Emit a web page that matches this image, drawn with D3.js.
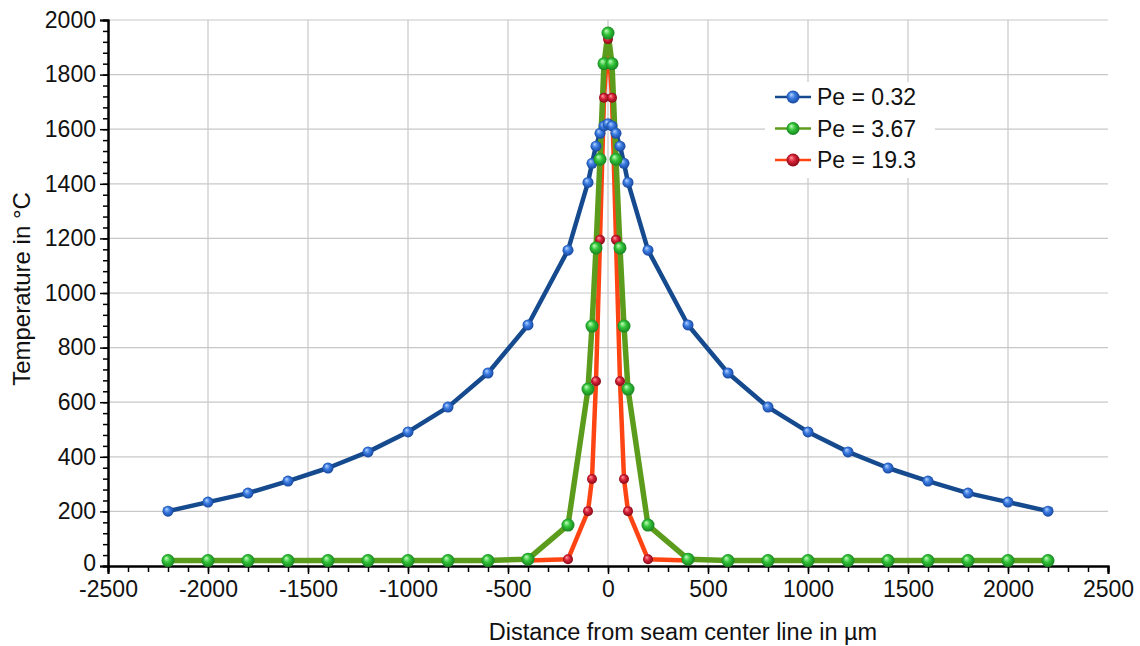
<!DOCTYPE html>
<html>
<head>
<meta charset="utf-8">
<script src="https://cdn.jsdelivr.net/npm/d3@7"></script>
<style>
  body { margin: 0; background: #fff; }
  svg { display: block; font-family: "Liberation Sans", Arial, sans-serif; }
</style>
</head>
<body>
<div id="chart"></div>
<script>
// values (x in µm, temperature in °C)
const blueX = [-2200, -2000, -1800, -1600, -1400, -1200, -1000, -800, -600, -400, -200, -100, -80, -60, -40, -20, 0,
  20, 40, 60, 80, 100, 200, 400, 600, 800, 1000, 1200, 1400, 1600, 1800, 2000, 2200];
const blueY = [201, 234, 267, 311, 359, 418, 491, 582, 707, 883, 1157, 1405, 1475, 1538, 1585, 1612, 1620,
  1612, 1585, 1538, 1475, 1405, 1157, 883, 707, 582, 491, 418, 359, 311, 267, 234, 201];

const greenX = [-2200, -2000, -1800, -1600, -1400, -1200, -1000, -800, -600, -400, -200, -100, -80, -60, -40, -20, 0,
  20, 40, 60, 80, 100, 200, 400, 600, 800, 1000, 1200, 1400, 1600, 1800, 2000, 2200];
const greenY = [20, 20, 20, 20, 20, 20, 20, 20, 20, 25, 150, 648, 879, 1165, 1490, 1840, 1952,
  1840, 1490, 1165, 879, 648, 150, 25, 20, 20, 20, 20, 20, 20, 20, 20, 20];

const redX = [-400, -200, -100, -80, -60, -40, -20, 0, 20, 40, 60, 80, 100, 200, 400];
const redY = [20, 25, 201, 319, 677, 1195, 1715, 1930, 1715, 1195, 677, 319, 201, 25, 20];

const seriesNames = ["Pe = 0.32", "Pe = 3.67", "Pe = 19.3"];

const xMajor = d3.range(-2500, 2501, 500);
const xMinor = d3.range(-2500, 2501, 100);
const yMajor = d3.range(0, 2001, 200);
const yMinor = d3.range(0, 2001, 40);

const width = 1140, height = 646;
const x = d3.scaleLinear().domain([-2500, 2500]).range([108, 1108]);
const y = d3.scaleLinear().domain([0, 2000]).range([566, 20]);

const svg = d3.select("#chart").append("svg")
  .attr("width", width)
  .attr("height", height);

// glossy sphere gradients for the markers
const styles = [
  {line: "#164a8e", lw: 4.5, r: 5.5, stops: ["#b8d4ff", "#3a7be0", "#123f96"]},
  {line: "#5c9c1c", lw: 5.5, r: 6.5, stops: ["#c8ffc0", "#33c43a", "#137a1c"]},
  {line: "#ff4414", lw: 4.5, r: 5, stops: ["#ff9d9d", "#d8223a", "#7c0612"]}
];
const defs = svg.append("defs");
styles.forEach((s, i) => {
  const g = defs.append("radialGradient")
    .attr("id", "ball" + i)
    .attr("cx", "50%").attr("cy", "50%").attr("r", "55%")
    .attr("fx", "35%").attr("fy", "30%");
  g.append("stop").attr("offset", "0%").attr("stop-color", s.stops[0]);
  g.append("stop").attr("offset", "45%").attr("stop-color", s.stops[1]);
  g.append("stop").attr("offset", "100%").attr("stop-color", s.stops[2]);
});

// grid
const grid = svg.append("g").attr("stroke", "#c8c8c8").attr("stroke-width", 1.2);
grid.selectAll("line.v").data(xMajor.filter(v => v > -2500 && v < 2500)).join("line")
  .attr("x1", d => x(d)).attr("x2", d => x(d))
  .attr("y1", y(0)).attr("y2", y(2000));
grid.selectAll("line.h").data(yMajor.filter(v => v > 0)).join("line")
  .attr("x1", x(-2500)).attr("x2", x(2500))
  .attr("y1", d => y(d)).attr("y2", d => y(d));

// axes
const fontSize = 23;
const xAxisMinor = svg.append("g")
  .attr("transform", `translate(0,${y(0)})`)
  .call(d3.axisBottom(x).tickValues(xMinor).tickSize(6).tickFormat(""));
const xAxis = svg.append("g")
  .attr("transform", `translate(0,${y(0)})`)
  .call(d3.axisBottom(x).tickValues(xMajor).tickSize(8).tickPadding(7).tickFormat(d3.format("d")));
const yAxisMinor = svg.append("g")
  .attr("transform", `translate(${x(-2500)},0)`)
  .call(d3.axisLeft(y).tickValues(yMinor).tickSize(5).tickFormat(""));
const yAxis = svg.append("g")
  .attr("transform", `translate(${x(-2500)},0)`)
  .call(d3.axisLeft(y).tickValues(yMajor).tickSize(8).tickPadding(4).tickFormat(d3.format("d")));

[xAxisMinor, xAxis, yAxisMinor, yAxis].forEach(a => {
  a.select(".domain").attr("stroke", "#000").attr("stroke-width", 2);
  a.selectAll(".tick line").attr("stroke", "#000").attr("stroke-width", 1.5);
  a.selectAll(".tick text")
    .attr("fill", "#111")
    .style("font-size", fontSize + "px")
    .style("font-family", "'Liberation Sans', Arial, sans-serif");
});
xAxis.selectAll(".tick text").text(d => d < 0 ? "-" + Math.abs(d) : d);
// keep the bottom y label clear of the first x label
yAxis.selectAll(".tick text").filter(d => d === 0).attr("dy", "0.2em");

// axis titles
svg.append("text")
  .attr("x", 683).attr("y", 640)
  .attr("text-anchor", "middle")
  .style("font-size", "23.5px")
  .attr("fill", "#111")
  .text("Distance from seam center line in µm");
svg.append("text")
  .attr("transform", `translate(30,${289}) rotate(-90)`)
  .attr("text-anchor", "middle")
  .style("font-size", "24px")
  .attr("fill", "#111")
  .text("Temperature in °C");

// series
const series = [
  blueX.map((v, i) => ({x: v, y: blueY[i]})),
  greenX.map((v, i) => ({x: v, y: greenY[i]})),
  redX.map((v, i) => ({x: v, y: redY[i]}))
];
const line = d3.line().x(d => x(d.x)).y(d => y(d.y));
const plot = svg.append("g");
const order = [0, 2, 1];
order.forEach(i => {
  plot.append("path")
    .datum(series[i])
    .attr("fill", "none")
    .attr("stroke", styles[i].line)
    .attr("stroke-width", styles[i].lw)
    .attr("stroke-linejoin", "round")
    .attr("d", line);
});
order.forEach(i => {
  plot.append("g").selectAll("circle")
    .data(series[i]).join("circle")
    .attr("cx", d => x(d.x))
    .attr("cy", d => y(d.y))
    .attr("r", styles[i].r)
    .attr("fill", `url(#ball${i})`);
});

// legend
const legend = svg.append("g").attr("transform", "translate(765,82)");
legend.append("rect").attr("width", 170).attr("height", 96).attr("fill", "#fff");
seriesNames.forEach((name, i) => {
  const row = legend.append("g").attr("transform", `translate(0,${15 + i * 31.5})`);
  row.append("line").attr("x1", 10).attr("x2", 46)
    .attr("stroke", styles[i].line).attr("stroke-width", 2.5);
  row.append("circle").attr("cx", 28).attr("r", 6.5).attr("fill", `url(#ball${i})`);
  row.append("text").attr("x", 52).attr("y", 8)
    .style("font-size", "23px").attr("fill", "#111")
    .text(name);
});
</script>
</body>
</html>
